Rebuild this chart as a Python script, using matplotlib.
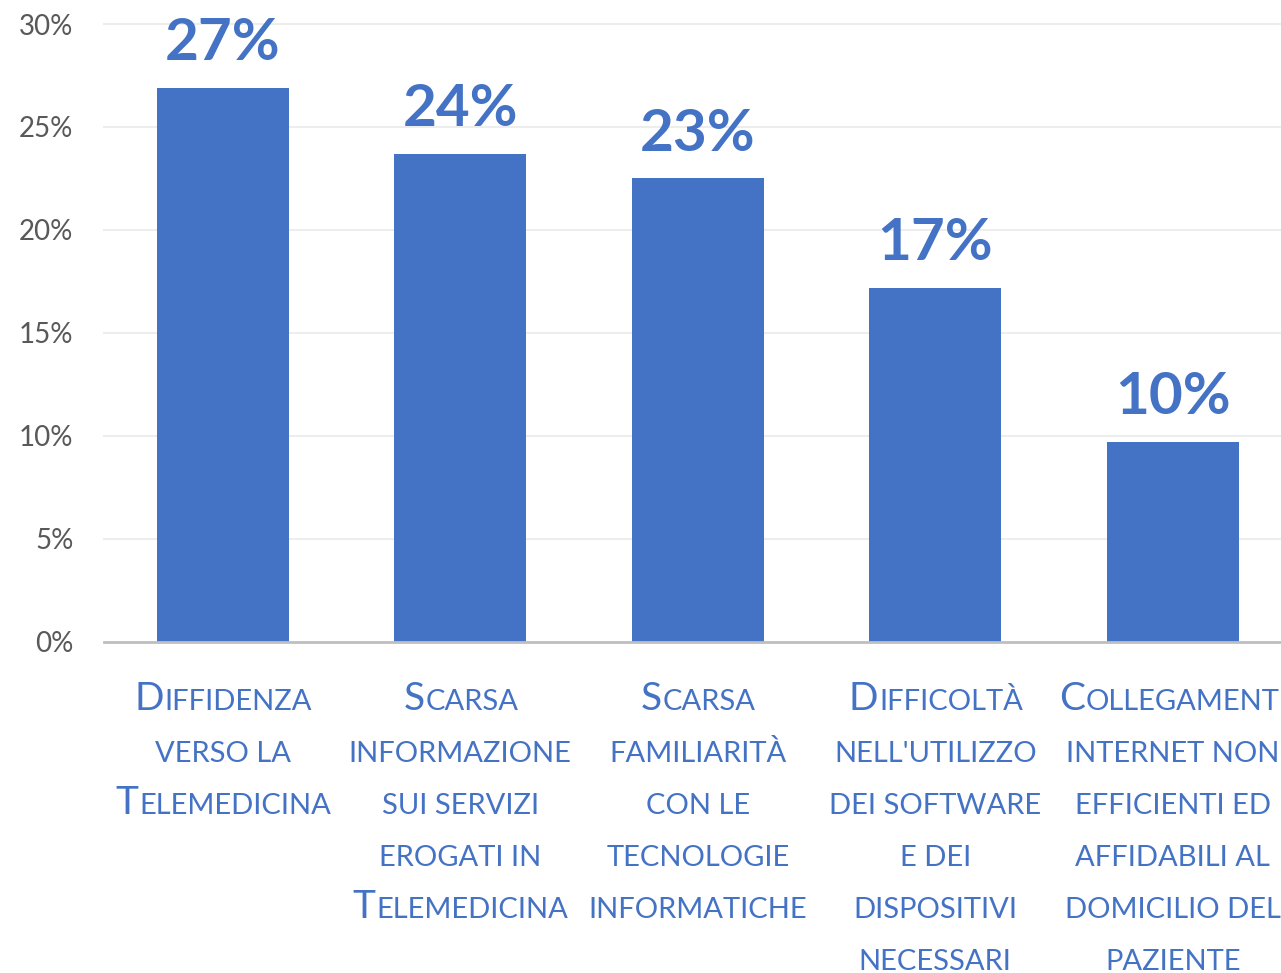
import matplotlib
matplotlib.use("Agg")
import matplotlib.pyplot as plt
from matplotlib.transforms import IdentityTransform

plt.rcParams['font.family'] = ['Lato', 'DejaVu Sans']

# data
categories = [
    ["Diffidenza", "verso la", "Telemedicina"],
    ["Scarsa", "informazione", "sui servizi", "erogati in", "Telemedicina"],
    ["Scarsa", "familiarità", "con le", "tecnologie", "informatiche"],
    ["Difficoltà", "nell'utilizzo", "dei software", "e dei", "dispositivi", "necessari"],
    ["Collegamenti", "internet non", "efficienti ed", "affidabili al", "domicilio del", "paziente"],
]
values = [0.269, 0.237, 0.225, 0.172, 0.097]
value_labels = ["27%", "24%", "23%", "17%", "10%"]
yticks = [0, 0.05, 0.10, 0.15, 0.20, 0.25, 0.30]
ytick_labels = ["0%", "5%", "10%", "15%", "20%", "25%", "30%"]

blue = "#4472C4"

fig = plt.figure(figsize=(12.81, 9.73), dpi=100)
ax = fig.add_axes([104 / 1281, 0.3405, 1187.5 / 1281, 0.6348])

x = list(range(len(values)))
ax.bar(x, values, width=0.556, color=blue, zorder=2)
ax.set_xlim(-0.5, 4.5)
ax.set_ylim(0, 0.30)

ax.set_yticks(yticks)
ax.set_yticklabels(ytick_labels, fontsize=20, color="#595959")
ax.tick_params(axis='y', length=0, pad=22)
ax.set_xticks([])
for s in ax.spines.values():
    s.set_visible(False)
for t in yticks[1:]:
    ax.axhline(t, color="#EDEDED", lw=1.5, zorder=1, clip_on=False)
ax.axhline(0, color="#BFBFBF", lw=2, zorder=3, clip_on=False)

for xi, v, lab in zip(x, values, value_labels):
    ax.annotate(lab, (xi, v), xytext=(0, 20), textcoords="offset points",
                ha="center", va="baseline", fontsize=42, fontweight="bold",
                color=blue)

# category labels drawn as small caps
fig.canvas.draw()
renderer = fig.canvas.get_renderer()
big_size = 28
small_size = 21
line_gap = 52
first_base = 973 - 710

for xi, lines in zip(x, categories):
    cx = ax.transData.transform((xi, 0))[0]
    for k, line in enumerate(lines):
        by = first_base - k * line_gap
        if line[0].isupper():
            parts = [(line[0], big_size), (line[1:].upper(), small_size)]
        else:
            parts = [(line.upper(), small_size)]
        texts = []
        total = 0
        for s, fs in parts:
            t = fig.text(0, by, s, fontsize=fs, color=blue, va="baseline",
                         ha="left", transform=IdentityTransform())
            w = t.get_window_extent(renderer).width
            texts.append((t, w))
            total += w
        px = cx - total / 2
        for t, w in texts:
            t.set_x(px)
            px += w + 1

fig.savefig("out.png", dpi=100)
